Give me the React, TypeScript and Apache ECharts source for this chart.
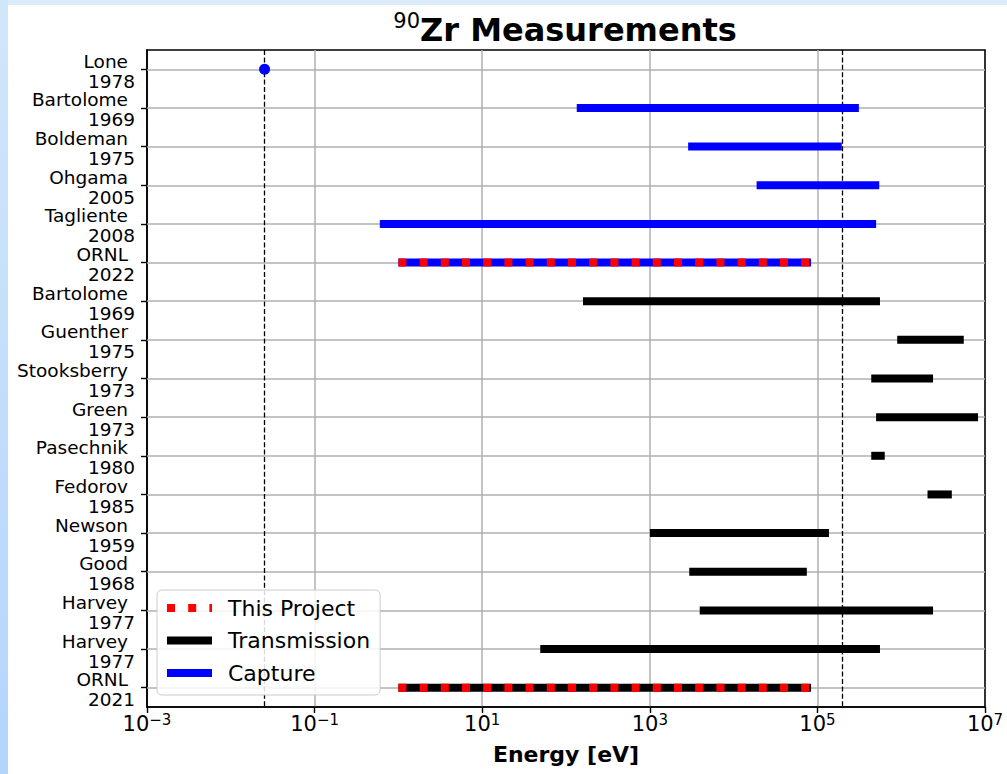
import React, { useEffect, useRef } from "react";
import * as echarts from "echarts";

// ---- data ----
const names = ["Lone", "Bartolome", "Boldeman", "Ohgama", "Tagliente", "ORNL", "Bartolome", "Guenther", "Stooksberry", "Green", "Pasechnik", "Fedorov", "Newson", "Good", "Harvey", "Harvey", "ORNL"];
const years = ["1978", "1969", "1975", "2005", "2008", "2022", "1969", "1975", "1973", "1973", "1980", "1985", "1959", "1968", "1977", "1977", "2021"];

// capture measurements (row index, start / end energy in eV)
const captureRows = [1, 2, 3, 4, 5];
const captureStart = [150, 3.2e3, 2.1e4, 0.67, 1];
const captureEnd = [2.8e5, 1.75e5, 4.9e5, 4.5e5, 8.4e4];

// transmission measurements
const transmissionRows = [6, 7, 8, 9, 10, 11, 12, 13, 14, 15, 16];
const transmissionStart = [178, 1.0e6, 4.9e5, 5.6e5, 4.9e5, 2.3e6, 1.12e3, 3.3e3, 4.4e3, 55, 1];
const transmissionEnd = [5.0e5, 5.0e6, 2.15e6, 7.4e6, 5.7e5, 3.6e6, 1.23e5, 6.7e4, 2.15e6, 5.0e5, 8.4e4];

// this project (overlay)
const projectRows = [5, 16];
const projectStart = [1, 1];
const projectEnd = [8.4e4, 8.4e4];

// single-energy capture point
const pointRows = [0];
const pointEnergy = [0.0253];

// reference energies (dashed verticals)
const refEnergies = [0.0253, 2e5];

// x axis (decades)
const xMinExp = -3;
const xMaxExp = 7;
const xTickStep = 2;

const FONT = "DejaVu Sans";

function expText(e: number) {
  return e < 0 ? "\u2212" + Math.abs(e) : String(e);
}

export default function App() {
  const ref = useRef<HTMLDivElement>(null);

  useEffect(() => {
    const chart = echarts.init(ref.current!, null, { renderer: "svg" });
    const lg = (v: number) => Math.log10(v);
    const rowLabels = names.map((n, i) => `${n}\n${years[i]}`);

    const rowsData = (rows: number[], s: number[], e: number[]) =>
      rows.map((r, i) => [lg(s[i]), lg(e[i]), r]);

    const barSeries = (name: string, color: string, data: number[][], z: number, dash: number[] | null) => ({
      type: "custom",
      name,
      z,
      silent: true,
      clip: true,
      encode: { x: [0, 1], y: 2 },
      itemStyle: { color },
      data,
      renderItem: (params: any, api: any) => {
        const row = api.value(2);
        const p1 = api.coord([api.value(0), row]);
        const p2 = api.coord([api.value(1), row]);
        const isProject = projectRows.includes(row);
        return {
          type: "line",
          shape: { x1: p1[0], y1: p1[1], x2: p2[0], y2: p2[1] },
          style: {
            stroke: color,
            fill: null,
            lineWidth: 8,
            lineCap: dash || isProject ? "butt" : "square",
            lineDash: dash || null,
          },
        };
      },
    });

    const option: any = {
      animation: false,
      backgroundColor: "#ffffff",
      textStyle: { fontFamily: FONT },
      grid: {
        left: 147,
        right: 22,
        top: 50,
        bottom: 67,
        show: true,
        borderColor: "#000",
        borderWidth: 1.6,
        backgroundColor: "transparent",
        containLabel: false,
        outerBoundsMode: "none",
      },
      xAxis: {
        type: "value",
        min: xMinExp,
        max: xMaxExp,
        interval: xTickStep,
        name: "Energy [eV]",
        nameLocation: "middle",
        nameGap: 36,
        nameTextStyle: { fontFamily: FONT, fontWeight: "bold", fontSize: 22, color: "#000" },
        axisLine: { show: true, onZero: false, lineStyle: { color: "#000", width: 1.6 } },
        axisTick: { show: true, length: 6, lineStyle: { color: "#000", width: 1.4 } },
        splitLine: { show: true, showMinLine: false, showMaxLine: false, lineStyle: { color: "#b0b0b0", width: 1.5 } },
        axisLabel: {
          margin: 5,
          color: "#000",
          formatter: (v: number) => `{b|10}{s|${expText(Math.round(v))}}`,
          rich: {
            b: { fontFamily: FONT, fontSize: 21, color: "#000", lineHeight: 22, verticalAlign: "bottom" },
            s: { fontFamily: FONT, fontSize: 15, color: "#000", lineHeight: 16, verticalAlign: "top" },
          },
        },
      },
      yAxis: {
        type: "category",
        inverse: true,
        data: rowLabels,
        axisLine: { show: true, onZero: false, lineStyle: { color: "#000", width: 1.6 } },
        axisTick: { show: true, alignWithLabel: true, length: 6, lineStyle: { color: "#000", width: 1.4 } },
        splitLine: { show: false },
        axisLabel: {
          interval: 0,
          margin: 12,
          align: "right",
          color: "#000",
          padding: [4, 0, 0, 0],
          formatter: (v: string) => {
            const [a, b] = v.split("\n");
            return `{n|${a}}\n{y|${b}}`;
          },
          rich: {
            n: { fontFamily: FONT, fontSize: 18.5, color: "#000", lineHeight: 20, padding: [0, 7, 0, 0], align: "right" },
            y: { fontFamily: FONT, fontSize: 18.5, color: "#000", lineHeight: 20, align: "right" },
          },
        },
      },
      legend: {
        left: 157,
        top: 590,
        orient: "vertical",
        itemWidth: 45,
        itemHeight: 8,
        itemGap: 10.5,
        padding: [7, 10, 11, 10],
        borderColor: "#cccccc",
        borderWidth: 1,
        borderRadius: 5,
        backgroundColor: "rgba(255,255,255,0.85)",
        selectedMode: false,
        textStyle: { fontFamily: FONT, fontSize: 22, color: "#000", lineHeight: 22, padding: [0, 0, 0, 11] },
        data: [
          {
            name: "This Project",
            icon: "path://M0,0h8v8h-8z M21.2,0h8v8h-8z M42.4,0h2.6v8h-2.6z",
            itemStyle: { color: "#ff0000", borderWidth: 0 },
          },
          { name: "Transmission", icon: "rect", itemStyle: { color: "#000000", borderWidth: 0 } },
          { name: "Capture", icon: "rect", itemStyle: { color: "#0000ff", borderWidth: 0 } },
        ],
      },
      graphic: [
        {
          type: "rect",
          silent: true,
          shape: { x: 0, y: 0, width: 1007, height: 5 },
          style: { fill: "#dcebfc" },
        },
        {
          type: "rect",
          silent: true,
          shape: { x: 0, y: 0, width: 8, height: 774 },
          style: {
            fill: new echarts.graphic.LinearGradient(0, 0, 0, 1, [
              { offset: 0, color: "#d2e6fb" },
              { offset: 1, color: "#b3d5fc" },
            ]),
          },
        },
        {
          type: "text",
          x: 565,
          y: 28,
          silent: true,
          style: {
            text: "{s|90}{b|Zr Measurements}",
            align: "center",
            verticalAlign: "middle",
            rich: {
              s: { fontFamily: FONT, fontSize: 21, fill: "#000", lineHeight: 20, verticalAlign: "top" },
              b: { fontFamily: FONT, fontSize: 32, fontWeight: "bold", fill: "#000", lineHeight: 35, verticalAlign: "bottom" },
            },
          },
        },
      ],
      series: [
        {
          type: "line",
          name: "_grid",
          data: [],
          z: 1,
          silent: true,
          markLine: {
            z: 1,
            silent: true,
            symbol: ["none", "none"],
            label: { show: false },
            animation: false,
            lineStyle: { color: "#b0b0b0", width: 1.5, type: "solid" },
            data: [
              ...names.map((_, i) => ({ yAxis: i })),
              ...refEnergies.map((e) => ({ xAxis: lg(e), lineStyle: { color: "#000", width: 1.3, type: [5, 2.4] } })),
            ],
          },
        },
        barSeries("Capture", "#0000ff", rowsData(captureRows, captureStart, captureEnd), 3, null),
        barSeries("Transmission", "#000000", rowsData(transmissionRows, transmissionStart, transmissionEnd), 3, null),
        barSeries("This Project", "#ff0000", rowsData(projectRows, projectStart, projectEnd), 4, [8, 13.2]),
        {
          type: "scatter",
          name: "Capture",
          z: 5,
          silent: true,
          symbol: "circle",
          symbolSize: 11,
          itemStyle: { color: "#0000ff", opacity: 1 },
          data: pointRows.map((r, i) => [lg(pointEnergy[i]), r]),
        },
      ],
    };

    chart.setOption(option);
    return () => chart.dispose();
  }, []);

  return <div ref={ref} style={{ position: "fixed", left: 0, top: 0, width: 1007, height: 774 }} />;
}
